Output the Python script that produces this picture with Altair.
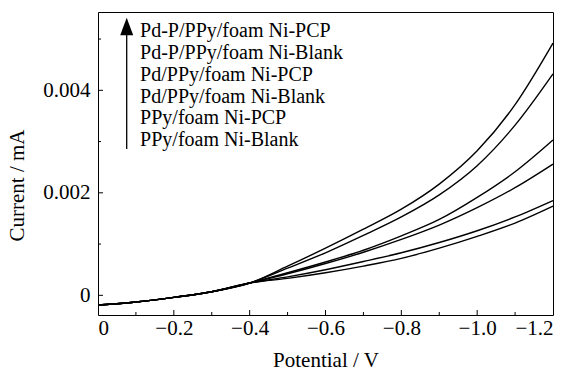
import altair as alt
import pandas as pd

potential = [0.0, -0.1, -0.2, -0.3, -0.4, -0.5, -0.6, -0.7, -0.8, -0.9, -1.0, -1.1, -1.2]

pdp_pcp = [-0.00019, -0.00013, -0.00004, 0.00007, 0.00024, 0.00057, 0.00092, 0.00129, 0.00168, 0.00217, 0.00282, 0.00372, 0.00492]
pdp_blank = [-0.00019, -0.00013, -0.00004, 0.00007, 0.00024, 0.00053, 0.00083, 0.00117, 0.00153, 0.00196, 0.00253, 0.00332, 0.00432]
pd_pcp = [-0.00019, -0.00013, -0.00004, 0.00007, 0.00024, 0.00044, 0.00065, 0.00088, 0.00116, 0.00148, 0.00191, 0.00241, 0.00303]
pd_blank = [-0.00019, -0.00013, -0.00004, 0.00007, 0.00024, 0.00042, 0.00062, 0.00084, 0.00109, 0.00137, 0.00171, 0.00210, 0.00256]
ppy_pcp = [-0.00019, -0.00013, -0.00004, 0.00007, 0.00024, 0.00036, 0.00050, 0.00066, 0.00083, 0.00103, 0.00126, 0.00153, 0.00185]
ppy_blank = [-0.00019, -0.00013, -0.00004, 0.00007, 0.00024, 0.00033, 0.00044, 0.00057, 0.00072, 0.00092, 0.00115, 0.00141, 0.00174]

series_names = [
    "Pd-P/PPy/foam Ni-PCP",
    "Pd-P/PPy/foam Ni-Blank",
    "Pd/PPy/foam Ni-PCP",
    "Pd/PPy/foam Ni-Blank",
    "PPy/foam Ni-PCP",
    "PPy/foam Ni-Blank",
]
series_values = [pdp_pcp, pdp_blank, pd_pcp, pd_blank, ppy_pcp, ppy_blank]

# legend rows (data units) and arrow
legend_x = [-0.111] * 6
legend_y = [0.00516, 0.00472, 0.00430, 0.003875, 0.003454, 0.00303]
arrow_x = -0.0757
arrow_y0 = 0.002855
arrow_y1 = 0.00510
arrow_head_y = 0.005245

x_major_ticks = [-0.2, -0.4, -0.6, -0.8, -1.0]
x_minor_ticks = [-0.1, -0.3, -0.5, -0.7, -0.9, -1.1]
y_major_ticks = [0.0, 0.002, 0.004]
y_minor_ticks = [0.001, 0.003, 0.005]

rows = []
for name, vals in zip(series_names, series_values):
    for p, v in zip(potential, vals):
        rows.append({"series": name, "potential": p, "current": v})
df = pd.DataFrame(rows)

FONT = "'Liberation Serif', 'Times New Roman', Times, serif"

xscale = alt.Scale(domain=[-1.2, 0], reverse=True, nice=False, zero=False)
yscale = alt.Scale(domain=[-0.000384, 0.005528], nice=False, zero=False)

lines = alt.Chart(df).mark_line(color="black", strokeWidth=1.4, interpolate="monotone").encode(
    x=alt.X("potential:Q", scale=xscale,
            axis=alt.Axis(title="Potential / V", values=[0, -0.2, -0.4, -0.6, -0.8, -1.0, -1.2],
                          labelExpr="datum.value == 0 ? '0' : format(datum.value, '.1f')",
                          labelPadding=2, titleY=51, titleBaseline="alphabetic")),
    y=alt.Y("current:Q", scale=yscale,
            axis=alt.Axis(title="Current / mA", values=[0, 0.002, 0.004],
                          labelExpr="datum.value == 0 ? '0' : format(datum.value, '.3f')",
                          labelPadding=8, titleX=-81, titleY=173, titleBaseline="middle")),
    detail="series:N",
)

def xtick_layer(vals, length):
    return alt.Chart(pd.DataFrame({"v": vals})).mark_rule(color="black", strokeWidth=1).encode(
        x=alt.X("v:Q", scale=xscale), y=alt.value(303), y2=alt.value(303 - length))

def ytick_layer(vals, length):
    return alt.Chart(pd.DataFrame({"v": vals})).mark_rule(color="black", strokeWidth=1).encode(
        y=alt.Y("v:Q", scale=yscale), x=alt.value(0), x2=alt.value(length))

legend_df = pd.DataFrame({"x": legend_x, "y": legend_y, "label": series_names})
legend = alt.Chart(legend_df).mark_text(align="left", baseline="middle", font=FONT, fontSize=20, color="black").encode(
    x=alt.X("x:Q", scale=xscale), y=alt.Y("y:Q", scale=yscale), text="label:N")

arrow_df = pd.DataFrame({"x": [arrow_x], "y0": [arrow_y0], "y1": [arrow_y1], "yh": [arrow_head_y]})
arrow_line = alt.Chart(arrow_df).mark_rule(color="black", strokeWidth=1.3).encode(
    x=alt.X("x:Q", scale=xscale), y=alt.Y("y0:Q", scale=yscale), y2="y1:Q")
arrow_head = alt.Chart(arrow_df).mark_point(shape="M0,-1L0.75,1L-0.75,1Z", size=300, filled=True, color="black", opacity=1).encode(
    x=alt.X("x:Q", scale=xscale), y=alt.Y("yh:Q", scale=yscale))

chart = alt.layer(
    lines,
    xtick_layer(x_major_ticks, 5), xtick_layer(x_minor_ticks, 3),
    ytick_layer(y_major_ticks, 5), ytick_layer(y_minor_ticks, 3),
    legend, arrow_line, arrow_head,
).properties(
    width=455, height=303,
    autosize=alt.AutoSizeParams(type="none"),
    padding={"left": 98, "top": 12, "right": 20, "bottom": 56},
    background="white",
).configure_view(
    stroke="black", strokeWidth=1
).configure_axis(
    grid=False, domain=False, ticks=False, tickSize=0,
    labelFont=FONT, labelFontSize=21, labelColor="black",
    titleFont=FONT, titleFontSize=21, titleColor="black", titleFontWeight="normal",
)

chart.save("out.html", embed_options={"renderer": "svg", "actions": False})
